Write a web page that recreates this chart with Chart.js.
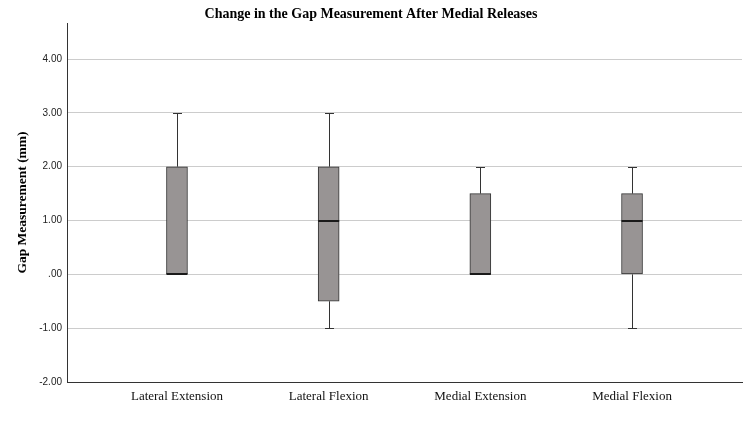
<!DOCTYPE html>
<html>
<head>
<meta charset="utf-8">
<script src="https://cdn.jsdelivr.net/npm/chart.js@4"></script>
<style>
  body { margin: 0; background: #fff; }
  #wrap { width: 750px; height: 442px; }
</style>
</head>
<body>
<div id="wrap"><canvas id="boxChart" width="750" height="442"></canvas></div>
<script>
const categories = ["Lateral Extension", "Lateral Flexion", "Medial Extension", "Medial Flexion"];
const mins = [0, -1, 0, -1];
const q1s = [0, -0.5, 0, 0];
const medians = [0, 1, 0, 1];
const q3s = [2, 2, 1.5, 1.5];
const maxs = [3, 3, 2, 2];
const yTicks = [-2, -1, 0, 1, 2, 3, 4];

const boxColor = "rgb(152, 148, 148)";
const lineColor = "#333333";

// whiskers + median lines, drawn through the chart scales
const boxPlotLines = {
  id: "boxPlotLines",
  beforeDatasetsDraw(chart) {
    const { ctx, scales: { x, y } } = chart;
    ctx.save();
    ctx.strokeStyle = lineColor;
    ctx.lineWidth = 1;
    categories.forEach((c, i) => {
      const cx = Math.round(x.getPixelForValue(i)) + 0.5;
      const pairs = [[q3s[i], maxs[i]], [q1s[i], mins[i]]];
      pairs.forEach(([from, to]) => {
        if (from === to) return;
        const y1 = y.getPixelForValue(from);
        const y2 = Math.round(y.getPixelForValue(to)) + 0.5;
        ctx.beginPath();
        ctx.moveTo(cx, y1);
        ctx.lineTo(cx, y2);
        ctx.moveTo(cx - 4.5, y2);
        ctx.lineTo(cx + 4.5, y2);
        ctx.stroke();
      });
    });
    ctx.restore();
  },
  afterDatasetsDraw(chart) {
    const { ctx, scales: { x, y } } = chart;
    const meta = chart.getDatasetMeta(0);
    ctx.save();
    ctx.strokeStyle = "#1a1a1a";
    ctx.lineWidth = 2;
    categories.forEach((c, i) => {
      const bar = meta.data[i];
      const half = bar.width / 2;
      const my = Math.round(y.getPixelForValue(medians[i]));
      ctx.beginPath();
      ctx.moveTo(bar.x - half, my);
      ctx.lineTo(bar.x + half, my);
      ctx.stroke();
    });
    ctx.restore();
  },
};

const ctx = document.getElementById("boxChart").getContext("2d");
new Chart(ctx, {
  type: "bar",
  data: {
    datasets: [
      {
        data: categories.map((c, i) => ({ x: i, y: [q1s[i], q3s[i]] })),
        backgroundColor: boxColor,
        borderColor: lineColor,
        borderWidth: 1,
        borderSkipped: false,
        barThickness: 21,
      },
    ],
  },
  options: {
    responsive: false,
    animation: false,
    layout: { padding: { left: 0, right: 8, top: 0, bottom: 0 } },
    plugins: {
      legend: { display: false },
      tooltip: { enabled: false },
      title: {
        display: true,
        text: "Change in the Gap Measurement After Medial Releases",
        color: "#000",
        font: { family: "'Liberation Serif', 'Times New Roman', serif", size: 14, weight: "bold" },
        padding: { top: 6, bottom: 0.2 },
      },
    },
    scales: {
      x: {
        type: "linear",
        offset: false,
        min: -0.725,
        max: 3.725,
        grid: { display: false, offset: false },
        border: { display: true, color: lineColor, width: 1 },
        afterBuildTicks(scale) {
          scale.ticks = categories.map((c, i) => ({ value: i }));
        },
        afterFit(scale) {
          scale.height = 60;
        },
        ticks: {
          padding: -1,
          color: "#111",
          maxRotation: 0,
          font: { family: "'Liberation Serif', 'Times New Roman', serif", size: 13 },
          callback: (v) => categories[v],
        },
      },
      y: {
        min: -2,
        max: 4.67,
        grid: { color: "#cccccc", lineWidth: 1, drawTicks: false },
        border: { display: true, color: lineColor, width: 1 },
        afterBuildTicks(scale) {
          scale.ticks = yTicks.map((v) => ({ value: v }));
        },
        afterFit(scale) {
          scale.width = 67;
        },
        ticks: {
          padding: 5,
          color: "#222",
          font: { family: "'Liberation Sans', Arial, sans-serif", size: 10 },
          callback: (v) => (v === 0 ? ".00" : v.toFixed(2)),
        },
        title: {
          display: true,
          text: "Gap Measurement (mm)",
          color: "#000",
          padding: { top: 14, bottom: 0 },
          font: { family: "'Liberation Serif', 'Times New Roman', serif", size: 13.5, weight: "bold" },
        },
      },
    },
  },
  plugins: [boxPlotLines],
});
</script>
</body>
</html>
